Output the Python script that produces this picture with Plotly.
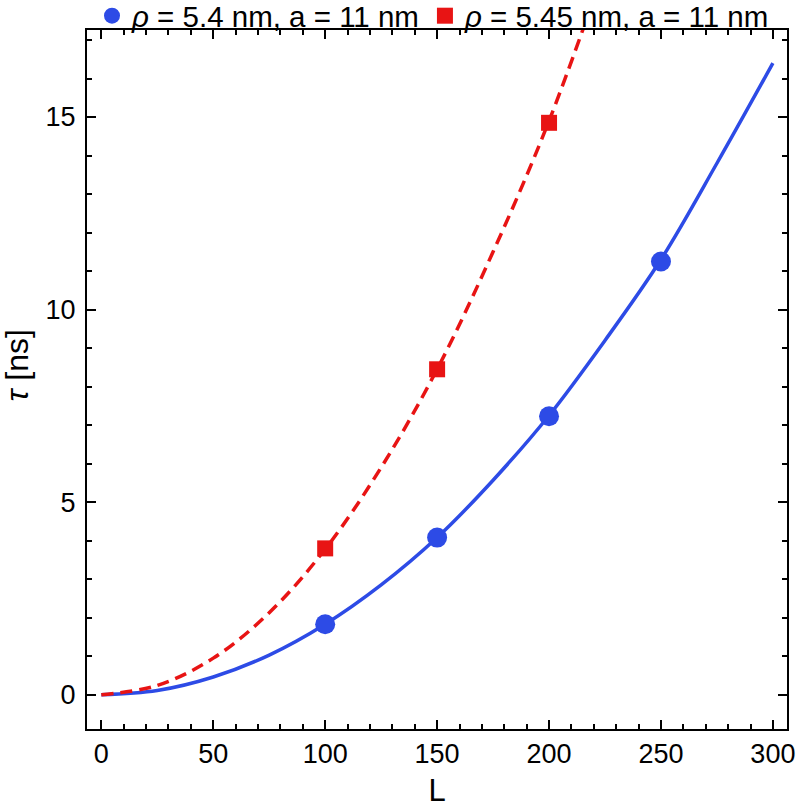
import plotly.graph_objects as go

# Simulation points
L_blue = [100, 150, 200, 250]
tau_blue = [1.83, 4.08, 7.23, 11.25]
L_red = [100, 150, 200]
tau_red = [3.80, 8.45, 14.85]

# Fitted curves
L_fit_blue = [0, 25, 50, 75, 100, 125, 150, 175, 200, 225, 250, 275, 300]
tau_fit_blue = [0, 0.11, 0.46, 1.03, 1.83, 2.85, 4.08, 5.57, 7.25, 9.2, 11.3, 13.8, 16.4]
L_fit_red = [0, 25, 50, 75, 100, 125, 150, 175, 200, 225]
tau_fit_red = [0, 0.24, 0.95, 2.13, 3.78, 5.9, 8.45, 11.5, 14.9, 18.9]

labels = ["<i>ρ</i> = 5.4 nm, a = 11 nm", "<i>ρ</i> = 5.45 nm, a = 11 nm"]

blue = "rgb(45,75,230)"
red = "rgb(232,20,20)"
font = "Liberation Sans, Arial, sans-serif"

fig = go.Figure()
fig.add_trace(go.Scatter(x=L_fit_blue, y=tau_fit_blue, mode="lines", line_shape="spline",
                         line=dict(color=blue, width=3.5), showlegend=False, hoverinfo="skip"))
fig.add_trace(go.Scatter(x=L_fit_red, y=tau_fit_red, mode="lines", line_shape="spline",
                         line=dict(color=red, width=3.5, dash="12px,7px"), showlegend=False, hoverinfo="skip"))
fig.add_trace(go.Scatter(x=L_blue, y=tau_blue, mode="markers", name=labels[0],
                         marker=dict(symbol="circle", size=20, color=blue)))
fig.add_trace(go.Scatter(x=L_red, y=tau_red, mode="markers", name=labels[1],
                         marker=dict(symbol="square", size=16, color=red)))

axis_common = dict(showgrid=False, zeroline=False, showline=True, linecolor="black", linewidth=2,
                   mirror="ticks", ticks="inside", ticklen=9, tickwidth=1.5, tickcolor="black",
                   tickfont=dict(size=27, color="black", family=font))

fig.update_xaxes(range=[-6.4, 306.3], tick0=0, dtick=50, **axis_common,
                 minor=dict(ticks="inside", dtick=10, ticklen=5, tickwidth=1.5, tickcolor="black"),
                 title=dict(text="L", font=dict(size=31, color="black", family=font), standoff=18))
fig.update_yaxes(range=[-0.89, 17.26], tick0=0, dtick=5, ticklabelstandoff=4, **axis_common,
                 minor=dict(ticks="inside", dtick=1, ticklen=5, tickwidth=1.5, tickcolor="black"))

# y title sits a bit above the axis centre in the original, so place it by hand
fig.add_annotation(text="<i>τ</i> [ns]", textangle=-90, xref="paper", yref="paper",
                   x=-0.1, y=0.52, xanchor="center", yanchor="middle", showarrow=False,
                   font=dict(size=32, color="black", family=font))

fig.update_layout(
    width=796, height=808,
    margin=dict(l=87, r=9, t=30, b=79, autoexpand=False),
    plot_bgcolor="white", paper_bgcolor="white",
    font=dict(family=font, color="black"),
    legend=dict(orientation="h", x=0.495, xanchor="center", y=1.02, yanchor="middle",
                font=dict(size=29.5, family=font, color="black"), bgcolor="rgba(0,0,0,0)",
                itemwidth=30, tracegroupgap=0),
)

# drop the default 8px page margin so the figure sits at the window corner
fig.write_html("out.html", config={"displayModeBar": False},
               post_script="document.body.style.margin='0px';")
